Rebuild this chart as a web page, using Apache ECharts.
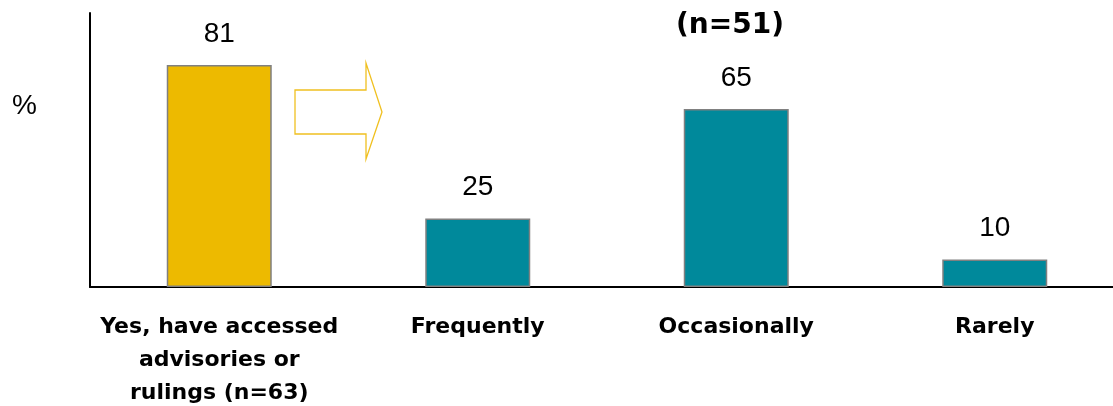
<!DOCTYPE html>
<html>
<head>
<meta charset="utf-8">
<script src="https://cdn.jsdelivr.net/npm/echarts@6/dist/echarts.min.js"></script>
<style>
  html, body { margin: 0; padding: 0; background: #fff; }
  #chart { width: 1113px; height: 406px; }
</style>
</head>
<body>
<div id="chart"></div>
<script>
// Access to advisories / rulings and how often they are used (%)
const categories = [
  'Yes, have accessed\nadvisories or\nrulings (n=63)',
  'Frequently',
  'Occasionally',
  'Rarely'
];
const values = [81, 25, 65, 10];
const subtitle = '(n=51)';
const unitLabel = '%';

const GOLD = '#EDBA00';
const TEAL = '#00899B';

const chart = echarts.init(document.getElementById('chart'), null, { renderer: 'canvas' });

chart.setOption({
  backgroundColor: '#ffffff',
  animation: false,
  grid: {
    left: 90, top: 13, width: 1034, height: 274,
    containLabel: false,
    outerBoundsMode: 'none'
  },
  xAxis: {
    type: 'category',
    data: categories,
    axisLine: { show: true, lineStyle: { color: '#000', width: 2 } },
    axisTick: { show: false },
    axisLabel: {
      interval: 0,
      margin: 24,
      color: '#000',
      fontFamily: 'DejaVu Sans',
      fontWeight: 'bold',
      fontSize: 22,
      lineHeight: 33,
      align: 'center'
    }
  },
  yAxis: {
    type: 'value',
    min: 0,
    max: 100,
    axisLine: { show: true, lineStyle: { color: '#000', width: 2 } },
    axisTick: { show: false },
    axisLabel: { show: false },
    splitLine: { show: false }
  },
  series: [{
    type: 'bar',
    data: values.map((v, i) => ({
      value: v,
      itemStyle: { color: i === 0 ? GOLD : TEAL }
    })),
    barWidth: 105,
    itemStyle: { borderColor: '#808080', borderWidth: 1.5 },
    label: {
      show: true,
      position: 'top',
      distance: 17,
      color: '#000',
      fontFamily: 'Liberation Sans, Arial, sans-serif',
      fontSize: 28
    },
    z: 1
  }],
  graphic: [
    {
      type: 'text',
      left: 676,
      top: 12,
      style: {
        text: subtitle,
        fill: '#000',
        font: 'bold 28px "DejaVu Sans"'
      }
    },
    {
      type: 'text',
      left: 12,
      top: 92,
      style: {
        text: unitLabel,
        fill: '#000',
        font: '28px "Liberation Sans", Arial, sans-serif'
      }
    },
    {
      // hollow arrow pointing from the "accessed" bar to the breakdown
      type: 'polygon',
      shape: {
        points: [[295, 90], [366, 90], [366, 63], [382, 112], [366, 159], [366, 134], [295, 134]]
      },
      style: { fill: '#fff', stroke: '#F0C020', lineWidth: 1.3 }
    }
  ]
});
</script>
</body>
</html>
